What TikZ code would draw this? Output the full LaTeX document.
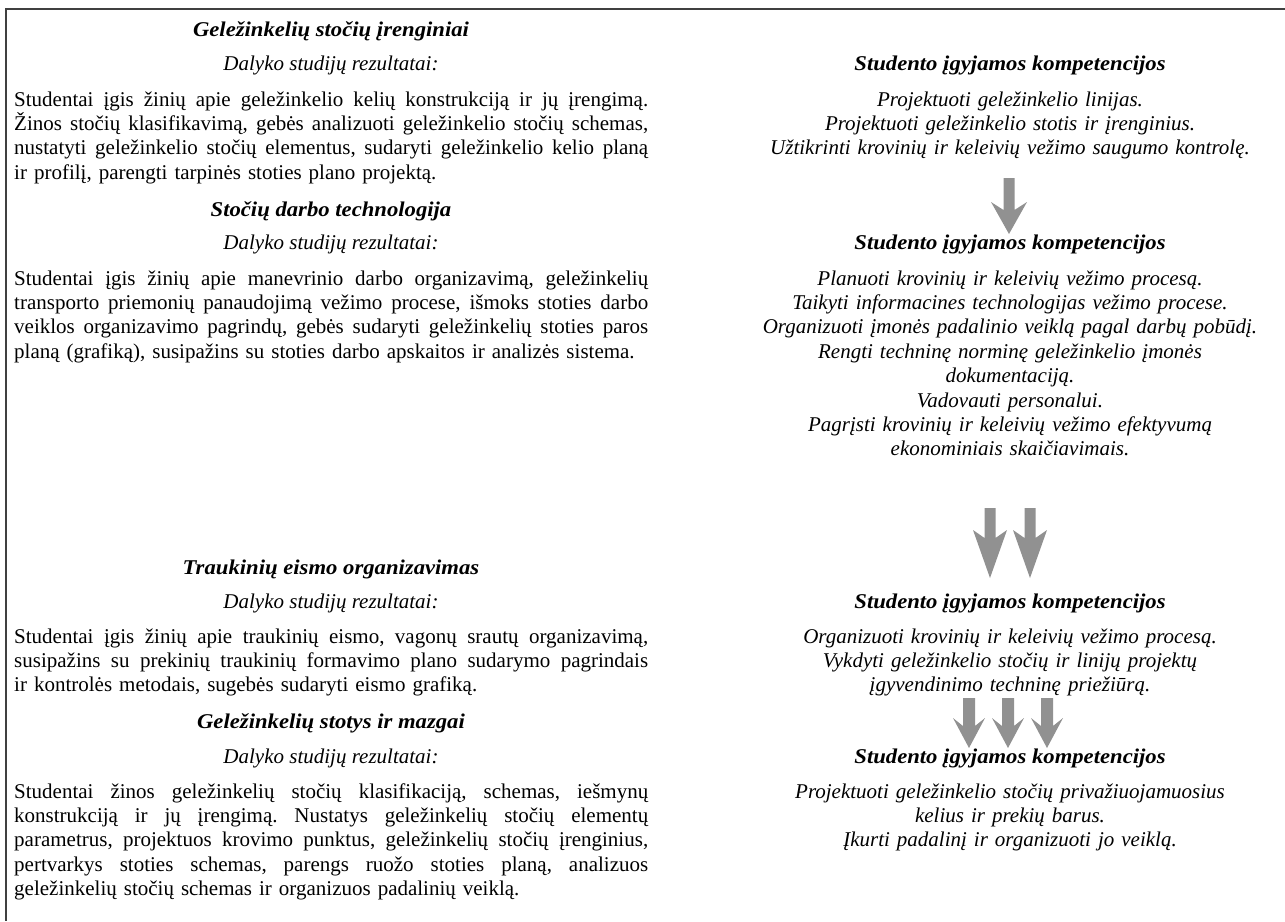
\documentclass[tikz,border=0pt]{standalone}
\usepackage{fontspec}
\setmainfont{Liberation Serif}[BoldItalicFeatures={FakeStretch=1.08}]
\frenchspacing
\newcommand\FS{\fontsize{21}{24.4}\selectfont}
\newcommand\JL[1]{\makebox[634pt][s]{\spaceskip=0pt\xspaceskip=0pt #1}\\}
\newcommand\DArrowShape[6]{%
  \fill[arrowfill] ({#1-#5},-#2) -- ({#1+#5},-#2) -- ({#1+#5},{-(#3+8)}) --
    ({#1+#6},-#3) -- (#1,-#4) -- ({#1-#6},-#3) -- ({#1-#5},{-(#3+8)}) -- cycle;}
\begin{document}
\begin{tikzpicture}[x=1pt,y=1pt,
  lefthead/.style={anchor=base,inner sep=0,font=\FS\bfseries\itshape},
  leftsub/.style={anchor=base,inner sep=0,font=\FS\itshape},
  leftpar/.style={anchor=base west,inner sep=0,text width=634pt,align=left,font=\FS},
  righthead/.style={anchor=base,inner sep=0,font=\FS\bfseries\itshape},
  rightpar/.style={anchor=base,inner sep=0,text width=560pt,align=center,font=\FS\itshape},
  arrowfill/.style={fill=black!43},
  frameline/.style={draw=black!75,line width=1.3pt}]
\useasboundingbox (0,0) rectangle (1285,-921);
\coordinate (fTL) at (6,-9);
\coordinate (fTR) at (1285,-9);
\coordinate (fBL) at (6,-921);
\draw[frameline] (fTR) -- (fTL) -- (fBL);

% left column
\node[lefthead] (h1) at (331,-36) {Geležinkelių stočių įrenginiai};
\node[leftsub] (d1) at (331,-70) {Dalyko studijų rezultatai:};
\node[leftpar] (p1) at (14,-106) {%
\JL{Studentai įgis žinių apie geležinkelio kelių konstrukciją ir jų įrengimą.}
\JL{Žinos stočių klasifikavimą, gebės analizuoti geležinkelio stočių schemas,}
\JL{nustatyti geležinkelio stočių elementus, sudaryti geležinkelio kelio planą}
ir profilį, parengti tarpinės stoties plano projektą.};

\node[lefthead] (h2) at (331,-216) {Stočių darbo technologija};
\node[leftsub] (d2) at (331,-249) {Dalyko studijų rezultatai:};
\node[leftpar] (p2) at (14,-285) {%
\JL{Studentai įgis žinių apie manevrinio darbo organizavimą, geležinkelių}
\JL{transporto priemonių panaudojimą vežimo procese, išmoks stoties darbo}
\JL{veiklos organizavimo pagrindų, gebės sudaryti geležinkelių stoties paros}
planą (grafiką), susipažins su stoties darbo apskaitos ir analizės sistema.};

\node[lefthead] (h3) at (331,-574) {Traukinių eismo organizavimas};
\node[leftsub] (d3) at (331,-608) {Dalyko studijų rezultatai:};
\node[leftpar] (p3) at (14,-643) {%
\JL{Studentai įgis žinių apie traukinių eismo, vagonų srautų organizavimą,}
\JL{susipažins su prekinių traukinių formavimo plano sudarymo pagrindais}
ir kontrolės metodais, sugebės sudaryti eismo grafiką.};

\node[lefthead] (h4) at (331,-728) {Geležinkelių stotys ir mazgai};
\node[leftsub] (d4) at (331,-763) {Dalyko studijų rezultatai:};
\node[leftpar] (p4) at (14,-798) {%
\JL{Studentai žinos geležinkelių stočių klasifikaciją, schemas, iešmynų}
\JL{konstrukciją ir jų įrengimą. Nustatys geležinkelių stočių elementų}
\JL{parametrus, projektuos krovimo punktus, geležinkelių stočių įrenginius,}
\JL{pertvarkys stoties schemas, parengs ruožo stoties planą, analizuos}
geležinkelių stočių schemas ir organizuos padalinių veiklą.};

% right column
\node[righthead] (r1) at (1010,-70) {Studento įgyjamos kompetencijos};
\node[rightpar] (q1) at (1010,-106) {Projektuoti geležinkelio linijas.\\
Projektuoti geležinkelio stotis ir įrenginius.\\
Užtikrinti krovinių ir keleivių vežimo saugumo kontrolę.};

\node[righthead] (r2) at (1010,-249) {Studento įgyjamos kompetencijos};
\node[rightpar] (q2) at (1010,-285) {Planuoti krovinių ir keleivių vežimo procesą.\\
Taikyti informacines technologijas vežimo procese.\\
Organizuoti įmonės padalinio veiklą pagal darbų pobūdį.\\
Rengti techninę norminę geležinkelio įmonės\\
dokumentaciją.\\
Vadovauti personalui.\\
Pagrįsti krovinių ir keleivių vežimo efektyvumą\\
ekonominiais skaičiavimais.};

\node[righthead] (r3) at (1010,-608) {Studento įgyjamos kompetencijos};
\node[rightpar] (q3) at (1010,-643) {Organizuoti krovinių ir keleivių vežimo procesą.\\
Vykdyti geležinkelio stočių ir linijų projektų\\
įgyvendinimo techninę priežiūrą.};

\node[righthead] (r4) at (1010,-763) {Studento įgyjamos kompetencijos};
\node[rightpar] (q4) at (1010,-798) {Projektuoti geležinkelio stočių privažiuojamuosius\\
kelius ir prekių barus.\\
Įkurti padalinį ir organizuoti jo veiklą.};

% arrows
\DArrowShape{1009}{178}{202}{234}{5.5}{18}
\DArrowShape{990}{508}{530}{578}{5.5}{17}
\DArrowShape{1030}{508}{530}{578}{5.5}{17}
\DArrowShape{969}{698}{718}{748}{6}{16}
\DArrowShape{1008}{698}{718}{748}{6}{16}
\DArrowShape{1047}{698}{718}{748}{6}{16}
\end{tikzpicture}
\end{document}
